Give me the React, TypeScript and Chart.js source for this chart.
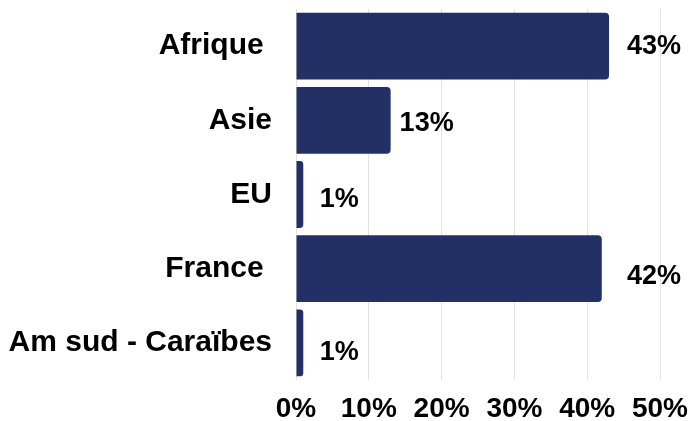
import React, { useEffect, useRef } from "react";
import { Chart, registerables } from "chart.js";

Chart.register(...registerables);

const categories = ["Afrique ", "Asie", "EU", "France ", "Am sud - Caraïbes"];
const values = [43, 13, 1, 42, 1];
const xTicks = [0, 10, 20, 30, 40, 50];

const FONT = "'Liberation Sans', Arial, sans-serif";

const valueLabels = {
  id: "valueLabels",
  afterDatasetsDraw(chart: any) {
    const ctx = chart.ctx;
    const meta = chart.getDatasetMeta(0);
    const area = chart.chartArea;
    ctx.save();
    ctx.font = `bold 27px ${FONT}`;
    ctx.fillStyle = "#000";
    ctx.textBaseline = "middle";
    ctx.textAlign = "center";
    meta.data.forEach((bar: any, i: number) => {
      const text = values[i] + "%";
      const w = ctx.measureText(text).width;
      let cx = bar.x + 36;
      if (cx + w / 2 > area.right) cx = chart.width - 13 - w / 2;
      ctx.fillText(text, cx, bar.y + 0.5 + i * 2.4);
    });
    ctx.restore();
  },
};

export default function App() {
  const ref = useRef<HTMLCanvasElement>(null);
  useEffect(() => {
    const chart = new Chart(ref.current!, {
      type: "bar",
      data: {
        labels: categories,
        datasets: [
          {
            data: values,
            backgroundColor: "#233066",
            borderRadius: 4,
            borderSkipped: "start",
            barPercentage: 0.9,
            categoryPercentage: 1,
          },
        ],
      },
      options: {
        indexAxis: "y",
        animation: false,
        responsive: false,
        maintainAspectRatio: false,
        layout: { padding: { top: 9, left: 0, right: 34, bottom: 0 } },
        plugins: { legend: { display: false }, tooltip: { enabled: false } },
        scales: {
          x: {
            min: 0,
            max: 50,
            afterBuildTicks: (s: any) => {
              s.ticks = xTicks.map((v) => ({ value: v }));
            },
            afterFit: (s: any) => {
              s.height = 41;
              s.paddingLeft = 0;
              s.paddingRight = 0;
            },
            grid: { color: "#e3e3e3", drawTicks: false, lineWidth: 1 },
            border: { display: false },
            ticks: {
              padding: 12,
              color: "#000",
              font: { family: FONT, size: 28, weight: "bold" },
              callback: (v: any) => v + "%",
            },
          },
          y: {
            afterFit: (s: any) => {
              s.width = 296;
              s.paddingTop = 0;
              s.paddingBottom = 0;
            },
            grid: { display: false },
            border: { display: false },
            ticks: {
              padding: 16,
              color: "#000",
              font: { family: FONT, size: 30, weight: "bold" },
            },
          },
        },
      },
      plugins: [valueLabels],
    });
    return () => chart.destroy();
  }, []);
  return (
    <div style={{ position: "absolute", left: 0, top: 0, width: 694, height: 421 }}>
      <canvas ref={ref} width={694} height={421} style={{ display: "block" }} />
    </div>
  );
}
